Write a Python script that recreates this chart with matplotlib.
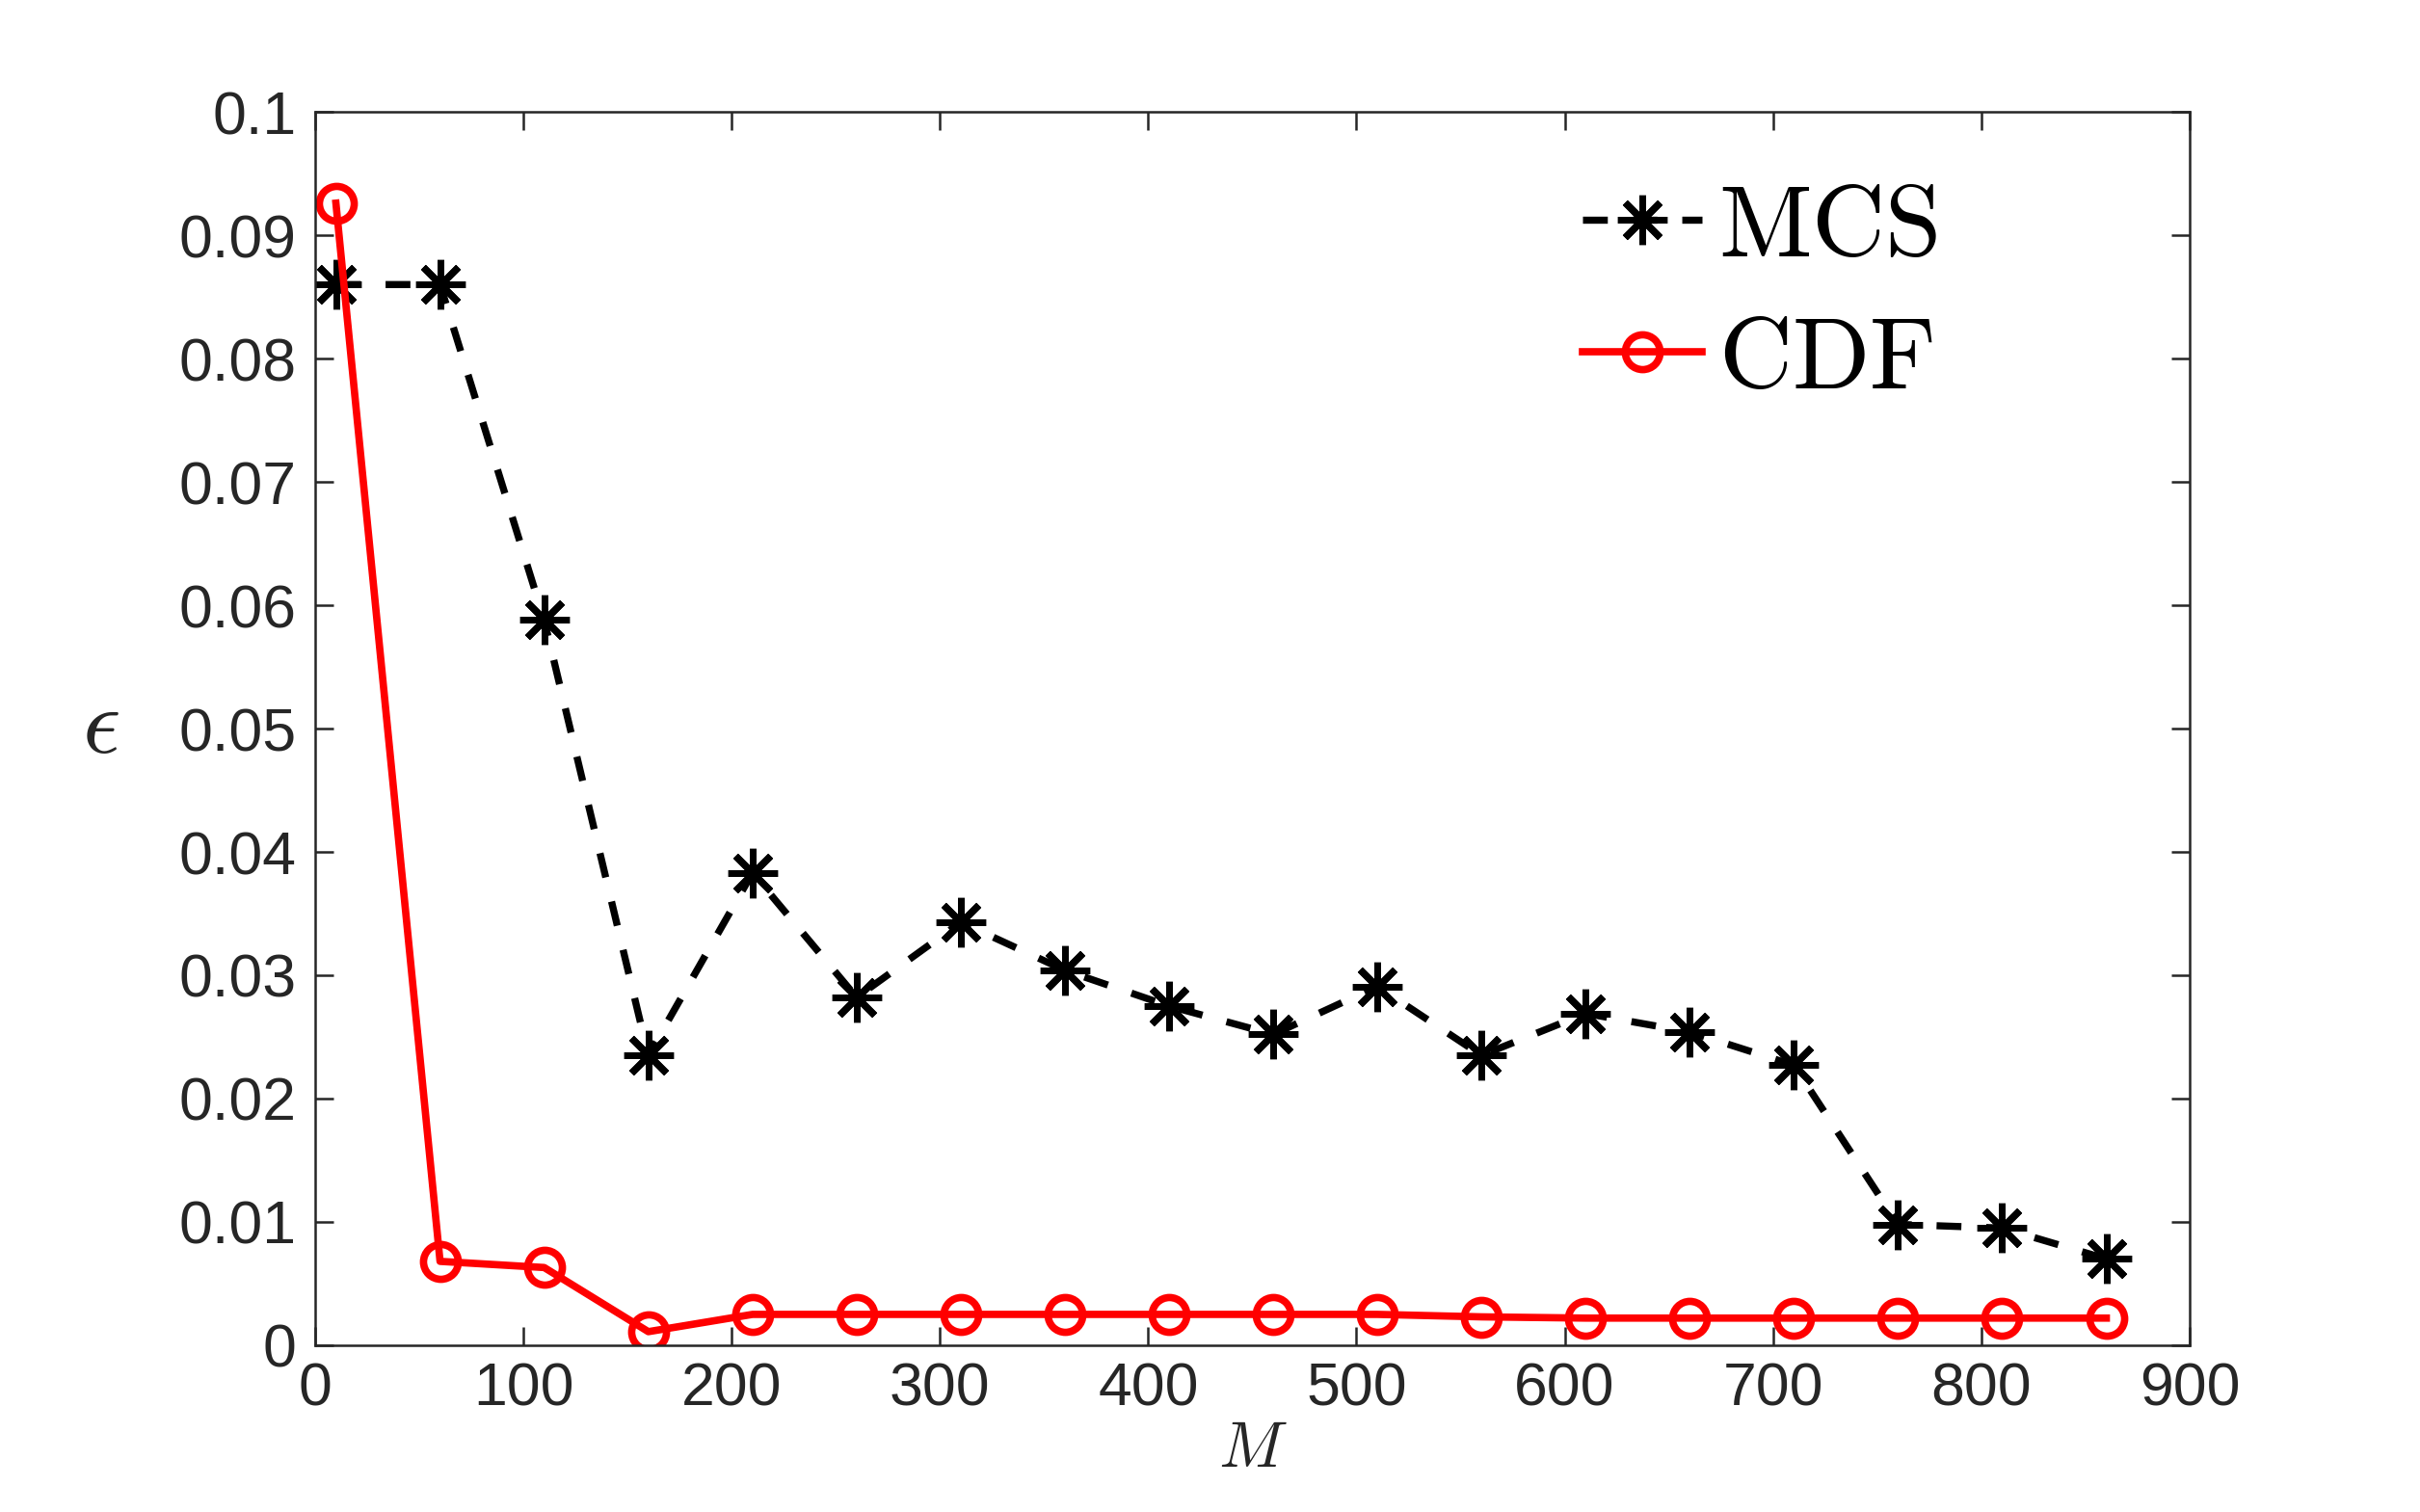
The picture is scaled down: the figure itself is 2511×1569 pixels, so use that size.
import matplotlib
matplotlib.use("Agg")
import matplotlib.pyplot as plt

plt.rcParams['mathtext.fontset'] = 'cm'
plt.rcParams['font.family'] = ['Liberation Sans', 'DejaVu Sans']

# sample sizes
M = [10, 60, 110, 160, 210, 260, 310, 360, 410, 460, 510, 560, 610, 660, 710, 760, 810, 860]

# errors
mcs = [0.0860, 0.0860, 0.0588, 0.0235, 0.0383, 0.0282, 0.0343, 0.0304, 0.0275, 0.0252,
       0.0291, 0.0235, 0.0269, 0.0254, 0.0227, 0.0098, 0.0095, 0.0070]
cdf = [0.0926, 0.0068, 0.0063, 0.0011, 0.0025, 0.0025, 0.0025, 0.0025, 0.0025, 0.0025,
       0.0025, 0.0023, 0.0022, 0.0022, 0.0022, 0.0022, 0.0022, 0.0022]

xticks = [0, 100, 200, 300, 400, 500, 600, 700, 800, 900]
yticks = [0, 0.01, 0.02, 0.03, 0.04, 0.05, 0.06, 0.07, 0.08, 0.09, 0.1]
ytick_labels = ['0', '0.01', '0.02', '0.03', '0.04', '0.05', '0.06', '0.07', '0.08', '0.09', '0.1']

axcol = '#262626'

fig = plt.figure(figsize=(25.11, 15.69), dpi=100)
ax = fig.add_axes([0.1302, 0.1103, 0.7746, 0.8157])

ax.plot(M, mcs, color='black', linestyle=(0, (3.5, 3.5)), linewidth=5.3,
        marker=(8, 2, 0), markersize=37, markeredgewidth=5, label=r'$\mathrm{MCS}$')
ax.plot(M, cdf, color='red', linewidth=5.5, marker='o', markersize=26,
        markerfacecolor='none', markeredgewidth=5.5, label=r'$\mathrm{CDF}$')

ax.set_xlim(0, 900)
ax.set_ylim(0, 0.1)
ax.set_xticks(xticks)
ax.set_yticks(yticks)
ax.set_yticklabels(ytick_labels)

ax.tick_params(direction='in', length=14, width=1.8, colors=axcol,
               labelsize=45, top=True, right=True)
ax.tick_params(axis='y', pad=14)
ax.tick_params(axis='x', pad=12)
for s in ax.spines.values():
    s.set_color(axcol)
    s.set_linewidth(1.8)

ax.set_xlabel(r'$M$', fontsize=48, color=axcol, labelpad=2)
ax.set_ylabel(r'$\epsilon$', fontsize=70, color=axcol, rotation=0, labelpad=58, va='center')

ax.legend(loc='upper left', bbox_to_anchor=(0.676, 0.944), frameon=False,
          fontsize=76, handlelength=1.18, handletextpad=0.16, labelspacing=0.36,
          borderpad=0, borderaxespad=0)

fig.savefig('out.png', dpi=100)
